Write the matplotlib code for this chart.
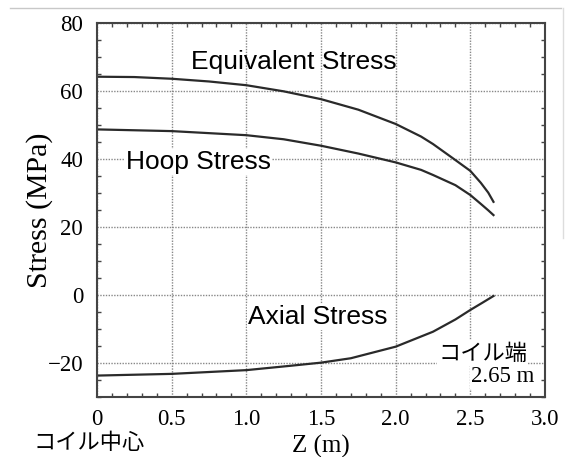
import matplotlib
matplotlib.use("Agg")
import matplotlib.pyplot as plt
from matplotlib.lines import Line2D
from matplotlib.ticker import MultipleLocator

# stress distribution along the coil axis
z_eq = [0.0, 0.25, 0.5, 0.75, 1.0, 1.25, 1.5, 1.75, 2.0, 2.17, 2.25, 2.39, 2.5, 2.57, 2.62, 2.655]
equivalent = [64.2, 64.1, 63.6, 62.8, 61.7, 59.9, 57.6, 54.5, 50.3, 46.6, 44.4, 40.0, 36.5, 33.0, 30.1, 27.4]

z_hoop = [0.0, 0.5, 1.0, 1.25, 1.5, 1.75, 2.0, 2.17, 2.25, 2.4, 2.5, 2.57, 2.62, 2.655]
hoop = [48.7, 48.2, 47.0, 45.8, 43.9, 41.6, 39.0, 36.8, 35.3, 32.3, 29.4, 26.8, 24.9, 23.5]

z_axial = [0.0, 0.5, 1.0, 1.3, 1.5, 1.7, 2.0, 2.25, 2.4, 2.5, 2.58, 2.655]
axial = [-23.7, -23.2, -22.1, -20.8, -19.9, -18.6, -15.2, -10.8, -7.2, -4.4, -2.3, -0.3]

x_ticks = [0, 0.5, 1.0, 1.5, 2.0, 2.5, 3.0]
x_labels = ["0", "0.5", "1.0", "1.5", "2.0", "2.5", "3.0"]
y_ticks = [-20, 0, 20, 40, 60, 80]
y_labels = ["\u221220", "0", "20", "40", "60", "80"]

serif = ["Liberation Serif", "DejaVu Serif"]
sans = ["Liberation Sans", "DejaVu Sans"]
jp = ["Noto Sans CJK JP", "DejaVu Sans"]

fig = plt.figure(figsize=(5.72, 4.57), dpi=100)
ax = fig.add_axes([0.1696, 0.1313, 0.7832, 0.8184])

line_kw = dict(color="#2a2a2a", lw=1.6)
ax.plot(z_eq, equivalent, **line_kw)
ax.plot(z_hoop, hoop, **line_kw)
ax.plot(z_axial, axial, **line_kw)

ax.set_xlim(0, 3.0)
ax.set_ylim(-30, 80)
ax.set_xticks(x_ticks)
ax.set_xticklabels(x_labels, fontfamily=serif, fontsize=16.5)
ax.set_yticks(y_ticks)
ax.set_yticklabels(y_labels, fontfamily=serif, fontsize=16.5)
ax.xaxis.set_minor_locator(MultipleLocator(0.1))
ax.yaxis.set_minor_locator(MultipleLocator(5))
ax.tick_params(which="both", direction="in", top=True, right=True, colors="#444444",
               labelcolor="black")
ax.tick_params(which="major", length=0, pad=10)
ax.tick_params(axis="x", which="major", pad=9)
ax.tick_params(which="minor", length=3, width=1)
ax.grid(True, which="major", color="#888888", ls=(0, (1, 1)), lw=1)
for s in ax.spines.values():
    s.set_color("#444444")
    s.set_linewidth(1.5)

ax.set_ylabel("Stress (MPa)", fontfamily=serif, fontsize=21.5, labelpad=-4)
ax.set_xlabel("Z (m)", fontfamily=serif, fontsize=18, labelpad=3)

bg = dict(facecolor="white", edgecolor="none", pad=1)
ax.text(1.316, 68.5, "Equivalent Stress", fontfamily=sans, fontsize=19,
        ha="center", va="center")
ax.text(0.678, 39.1, "Hoop Stress", fontfamily=sans, fontsize=19,
        ha="center", va="center", bbox=bg)
ax.text(1.477, -6.5, "Axial Stress", fontfamily=sans, fontsize=19,
        ha="center", va="center", bbox=bg)
ax.text(2.88, -17.1, "コイル端", fontfamily=jp, fontsize=16,
        ha="right", va="center", bbox=bg)
ax.text(2.93, -24.1, "2.65 m", fontfamily=serif, fontsize=16.5,
        ha="right", va="center", bbox=bg)

fig.text(0.058, 0.031, "コイル中心", fontfamily=jp, fontsize=16, ha="left", va="center")

# thin border lines around the figure
fig.add_artist(Line2D([0.017, 0.98], [0.982, 0.982], color="#c8c8c8", lw=1))
fig.add_artist(Line2D([0.984, 0.984], [0.982, 0.48], color="#dddddd", lw=1))

fig.savefig("out.png", dpi=100)
